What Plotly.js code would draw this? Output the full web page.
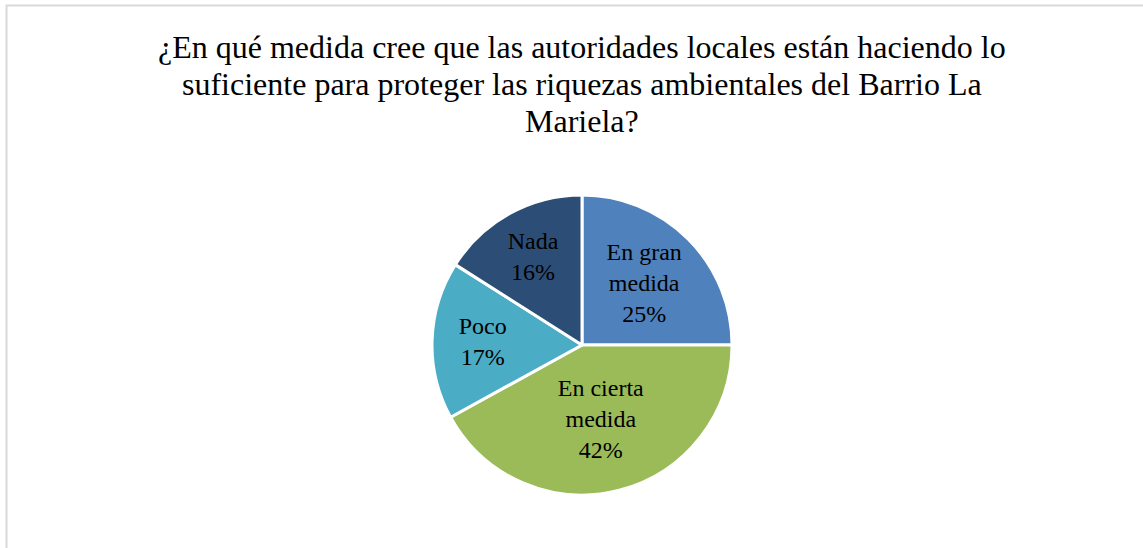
<!DOCTYPE html>
<html>
<head>
<meta charset="utf-8">
<script src="https://cdn.plot.ly/plotly-3.0.1.min.js"></script>
<style>html,body{margin:0;padding:0;background:#fff;}#chart{width:1143px;height:548px;}</style>
</head>
<body>
<div id="chart"></div>
<script>
var categories = ["En gran<br>medida", "En cierta<br>medida", "Poco", "Nada"];
var values = [25, 42, 17, 16];
var colors = ["#4F81BD", "#9BBB59", "#4BACC6", "#2C4D75"];
var titleLines = [
  "¿En qué medida cree que las autoridades locales están haciendo lo",
  "suficiente para proteger las riquezas ambientales del Barrio La",
  "Mariela?"
];

var W = 1143, H = 548;
var SERIF = "'Liberation Serif', 'Times New Roman', serif";
var trace = {
  type: "pie",
  labels: categories,
  values: values,
  sort: false,
  direction: "clockwise",
  rotation: 0,
  marker: {colors: colors, line: {color: "#ffffff", width: 3}},
  texttemplate: "%{label}<br>%{percent:.0%}",
  textposition: "inside",
  insidetextorientation: "horizontal",
  textfont: {family: SERIF, size: 24, color: "#000000"},
  showlegend: false,
  hoverinfo: "label+percent",
  domain: {x: [432 / W, 732 / W], y: [53 / H, 353 / H]}
};

var lineY = [47, 84, 121];
var annotations = titleLines.map(function (t, i) {
  return {
    text: t, showarrow: false, xref: "paper", yref: "paper",
    x: 582 / W, xanchor: "center", y: 1 - lineY[i] / H, yanchor: "middle",
    font: {family: SERIF, size: 32, color: "#000000"}
  };
});

var layout = {
  width: W, height: H,
  margin: {l: 0, r: 0, t: 0, b: 0},
  paper_bgcolor: "#ffffff",
  annotations: annotations,
  shapes: [{
    type: "rect", xref: "paper", yref: "paper",
    x0: 6.5 / W, x1: 1.05, y0: -0.05, y1: 1 - 5.5 / H,
    line: {color: "#d9d9d9", width: 2}, fillcolor: "rgba(0,0,0,0)"
  }]
};

Plotly.newPlot("chart", [trace], layout, {displayModeBar: false});
</script>
</body>
</html>
